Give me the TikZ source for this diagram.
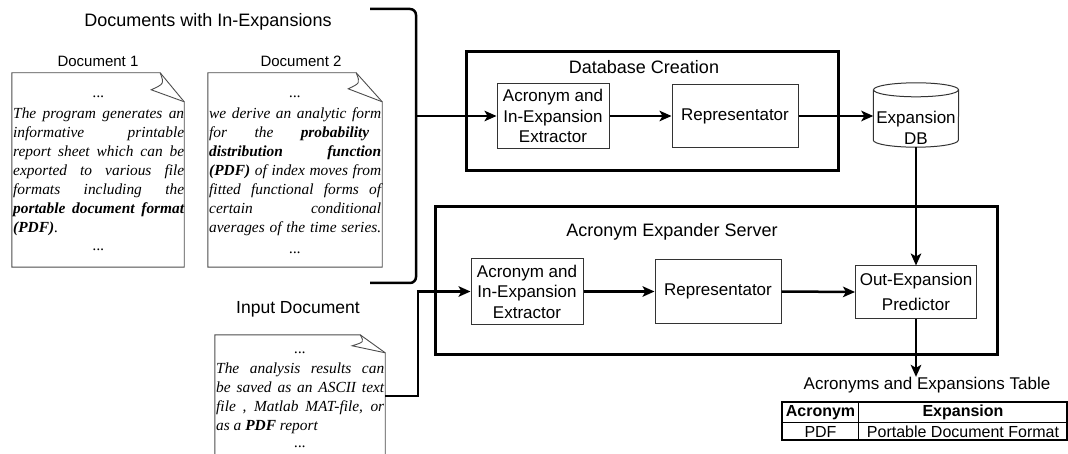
\documentclass[tikz,border=0pt]{standalone}
\usepackage{fontspec}
\setmainfont{Liberation Sans}
\newfontfamily\serifdoc{Liberation Serif}
\usetikzlibrary{arrows.meta,calc}

\tikzset{
  lbl/.style={inner sep=0pt, font=\fontsize{18}{21}\selectfont},
  doclbl/.style={inner sep=0pt, font=\fontsize{15}{18}\selectfont},
  proc/.style={draw=black!80, line width=1pt, inner sep=0pt, align=center, font=\fontsize{17}{20.5}\selectfont},
  cont/.style={draw=black, line width=3pt, inner sep=0pt},
  arr/.style={line width=2.5pt, -{Stealth[length=12pt,width=10.5pt,inset=3pt]}},
  docline/.style={draw=black!70, line width=0.9pt},
  boxline/.style={draw=black!80, line width=1pt},
  docarea/.style={inner sep=0pt},
  doctext/.style={inner sep=0pt, anchor=base west, font=\serifdoc\itshape\fontsize{15.4}{19}\selectfont},
  cell/.style={inner sep=0pt, font=\fontsize{16}{19}\selectfont},
}

\newcommand\drawdoc[5]{%
  \draw[docline] (#1.north west) -- ($(#1.north east)+(-#2,0)$) -- ($(#1.north east)+(0,#5)$) -- (#1.south east) -- (#1.south west) -- cycle;
  \draw[docline] ($(#1.north east)+(-#2,0)$) .. controls ($(#1.north east)+(-#2+4,#4*0.65)$) .. ($(#1.north east)+(-#3,#4)$) -- ($(#1.north east)+(0,#5)$);
}

\begin{document}
\begin{tikzpicture}[x=1pt,y=-1pt]
\useasboundingbox (0,0) rectangle (1068,454);
\clip (0,0) rectangle (1068,454);

% ---------- left: documents ----------
\node[lbl] (t1) at (208,22) {Documents with In-Expansions};
\node[doclbl] (l1) at (98,61) {Document 1};
\node[doclbl] (l2) at (301,61) {Document 2};
\node[lbl, font=\fontsize{17.5}{21}\selectfont] (l3) at (298,309) {Input Document};

\node[docarea, minimum width=172, minimum height=194] (doc1) at (98,170) {};
\node[docarea, minimum width=174, minimum height=194] (doc2) at (295,170) {};
\node[docarea, minimum width=170, minimum height=135] (docin) at (300,402.5) {};
\drawdoc{doc1}{24}{33}{17}{29}
\drawdoc{doc2}{26}{34}{16}{29}
\drawdoc{docin}{25}{33}{11}{18}

\node[doctext] (d1t) at (13,98) {\parbox[t]{171pt}{%
\makebox[\linewidth]{...}\\[2pt]
\makebox[\linewidth][s]{The program generates an}\\
\makebox[\linewidth][s]{informative printable}\\
\makebox[\linewidth][s]{report sheet which can be}\\
\makebox[\linewidth][s]{exported to various file}\\
\makebox[\linewidth][s]{formats including the}\\
\makebox[\linewidth][s]{\textbf{portable document format}}\\
\makebox[\linewidth][l]{\textbf{(PDF)}.}\\[-1pt]
\makebox[\linewidth]{...}}};

\node[doctext] (d2t) at (209,98) {\parbox[t]{172pt}{%
\makebox[\linewidth]{...}\\[2pt]
\makebox[\linewidth][s]{we derive an analytic form}\\
\makebox[\linewidth][s]{for the \textbf{probability}\hspace{12pt}}\\
\makebox[\linewidth][s]{\textbf{distribution function}}\\
\makebox[\linewidth][s]{\textbf{(PDF)} of index moves from}\\
\makebox[\linewidth][s]{fitted functional forms of}\\
\makebox[\linewidth][s]{certain conditional}\\
\makebox[\linewidth][s]{averages of the time series.}\\[2pt]
\makebox[\linewidth]{...}}};

\node[doctext] (dit) at (216,353) {\parbox[t]{168pt}{%
\makebox[\linewidth]{...}\\[1pt]
\makebox[\linewidth][s]{The analysis results can}\\
\makebox[\linewidth][s]{be saved as an ASCII text}\\
\makebox[\linewidth][s]{file , Matlab MAT-file, or}\\
\makebox[\linewidth][l]{as a \textbf{PDF} report}\\[-2pt]
\makebox[\linewidth]{...}}};

% bracket
\draw[line width=2.5pt, rounded corners=6pt] (370,9) -- (416,9) -- (416,283) -- (370,283);
\coordinate (brk) at (416,116);

% ---------- Database creation ----------
\node[cont, minimum width=372, minimum height=119] (dbc) at (652,111.5) {};
\node[lbl] (dbct) at (644,67) {Database Creation};
\node[proc, minimum width=112, minimum height=65] (ext1) at (553,116) {Acronym and\\In-Expansion\\Extractor};
\node[proc, minimum width=126, minimum height=63] (rep1) at (735,116) {Representator};

% database cylinder
\node[inner sep=0pt, minimum width=85, minimum height=64] (db) at (916,115) {};
\draw[boxline] ($(db.north west)+(0,7)$) -- ($(db.south west)+(0,-7)$) arc[start angle=180, end angle=360, x radius=42.5pt, y radius=7pt] -- ($(db.north east)+(0,7)$);
\draw[boxline] ($(db.north)+(0,7)$) ellipse[x radius=42.5pt, y radius=7pt];
\node[proc, draw=none, inner sep=0pt] (dbtxt) at (916,128) {Expansion\\DB};

% ---------- Acronym Expander Server ----------
\node[cont, minimum width=562, minimum height=147] (srv) at (716,280.5) {};
\node[lbl] (srvt) at (672,232) {Acronym Expander Server};
\node[proc, minimum width=112, minimum height=65] (ext2) at (527,291.5) {Acronym and\\In-Expansion\\Extractor};
\node[proc, minimum width=126, minimum height=64] (rep2) at (718,291.5) {Representator};
\node[proc, minimum width=121, minimum height=52] (pred) at (916,292) {Out-Expansion\\[5pt]Predictor};

% ---------- connectors ----------
\draw[arr] (brk) -- (brk -| ext1.west);
\draw[arr] (ext1.east) -- (rep1.west);
\draw[arr] (rep1.east) -- (rep1.east -| db.west);
\draw[arr] (db.south) -- (pred.north);
\coordinate (inout) at (385,396);
\coordinate (bend) at (418,396);
\draw[arr] (inout) -- (bend) |- (ext2.west);
\draw[arr] (ext2.east) -- (rep2.west);
\draw[arr] (rep2.east) -- (pred.west);

% ---------- table ----------
\node[lbl, font=\fontsize{17}{20}\selectfont] (tt) at (927,385) {Acronyms and Expansions Table};
\draw[arr] (pred.south) -- (pred.south |- tt.north);
\node[draw, line width=1.2pt, inner sep=0pt, minimum width=285, minimum height=38] (tbl) at (924.5,421) {};
\draw[line width=1.2pt] ($(tbl.north west)+(77,0)$) -- ($(tbl.south west)+(77,0)$);
\draw[line width=1.2pt] ($(tbl.north west)+(0,21)$) -- ($(tbl.north east)+(0,21)$);
\node[cell, font=\fontsize{16}{19}\selectfont\bfseries] (c11) at (820.5,412.5) {Acronym};
\node[cell, font=\fontsize{16}{19}\selectfont\bfseries] (c12) at (963,412.5) {Expansion};
\node[cell] (c21) at (820.5,431.5) {PDF};
\node[cell] (c22) at (963,431.5) {Portable Document Format};
\end{tikzpicture}
\end{document}
